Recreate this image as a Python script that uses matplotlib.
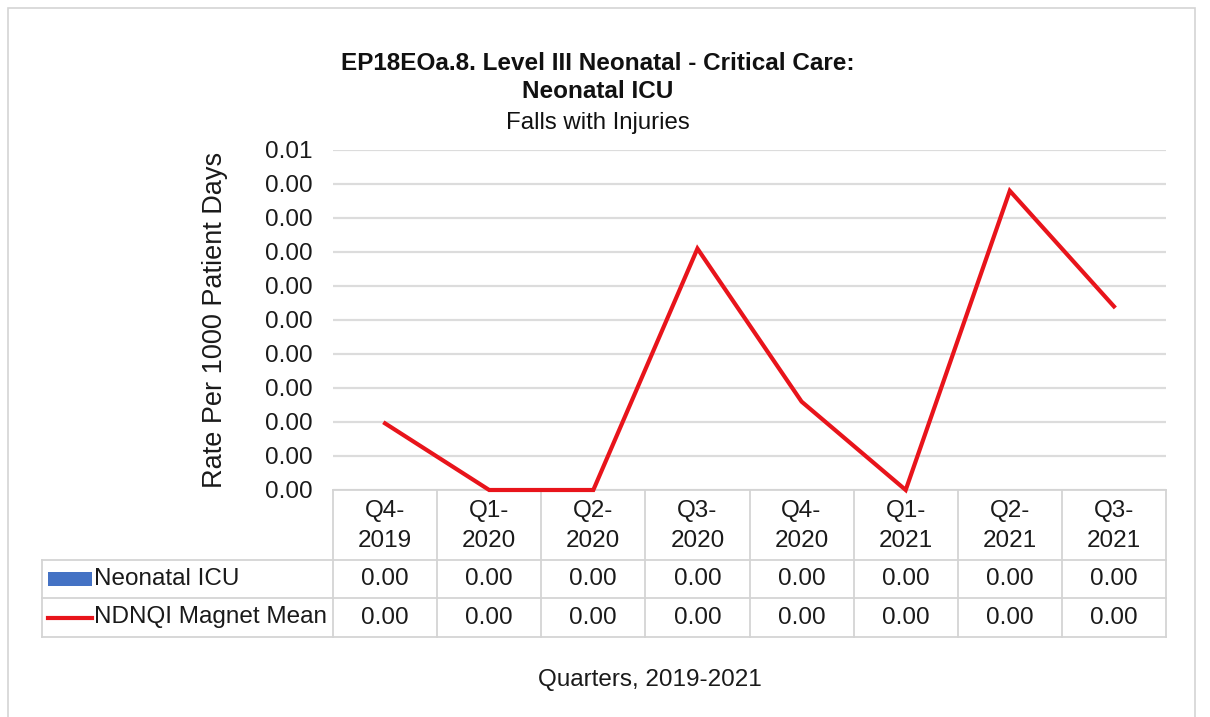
import matplotlib
matplotlib.use("Agg")
import matplotlib.pyplot as plt
from matplotlib.transforms import blended_transform_factory
from matplotlib.patches import Rectangle
from matplotlib.lines import Line2D

plt.rcParams['font.family'] = ['Liberation Sans', 'DejaVu Sans']

categories = ["Q4-\n2019", "Q1-\n2020", "Q2-\n2020", "Q3-\n2020", "Q4-\n2020", "Q1-\n2021", "Q2-\n2021", "Q3-\n2021"]
neonatal_icu = [0.0, 0.0, 0.0, 0.0, 0.0, 0.0, 0.0, 0.0]
magnet_mean = [0.00098, 0.0, 0.0, 0.00355, 0.0013, 0.0, 0.0044, 0.0027]
yticks = [0.0, 0.0005, 0.001, 0.0015, 0.002, 0.0025, 0.003, 0.0035, 0.004, 0.0045, 0.005]
series_names = ["Neonatal ICU", "NDNQI Magnet Mean"]

W, H = 1210, 717
fig = plt.figure(figsize=(W / 100, H / 100), dpi=100)
fig.patch.set_facecolor("white")

FS = 17.5
TXT = "#1a1a1a"

# outer frame
fig.patches.append(Rectangle((8 / W, -0.01), (1195 - 8) / W, (H - 8) / H + 0.01,
                             transform=fig.transFigure, facecolor="none",
                             edgecolor="#d4d4d4", lw=1.2))

ax_l, ax_r, ax_t, ax_b = 333, 1166, 150, 490
ax = fig.add_axes([ax_l / W, 1 - ax_b / H, (ax_r - ax_l) / W, (ax_b - ax_t) / H])
n = len(categories)
x = list(range(n))
ax.plot(x, magnet_mean, color="#e8141b", lw=3.0, solid_joinstyle="miter", clip_on=False, zorder=3)
ax.set_xlim(-0.5, n - 0.5)
ax.set_ylim(0, 0.005)
ax.set_yticks(yticks)
ax.set_yticklabels([f"{v:.2f}" for v in yticks])
ax.tick_params(axis="y", length=0, labelsize=FS, pad=15, colors=TXT)
ax.set_xticks([])
for s in ["top", "right", "left", "bottom"]:
    ax.spines[s].set_visible(False)
ax.yaxis.grid(True, color="#dcdcdc", lw=1.6)
ax.set_axisbelow(True)
ax.set_ylabel("Rate Per 1000 Patient Days", fontsize=19.5, color=TXT, labelpad=26)

# titles
fig.text(598 / W, 1 - 63 / H, "EP18EOa.8. Level III Neonatal - Critical Care:", ha="center", va="center",
         fontsize=17.5, fontweight="bold", color="#111111")
fig.text(598 / W, 1 - 91 / H, "Neonatal ICU", ha="center", va="center",
         fontsize=17.5, fontweight="bold", color="#111111")
fig.text(598 / W, 1 - 123 / H, "Falls with Injuries", ha="center", va="center",
         fontsize=17.3, color="#111111")

# data table
tr = blended_transform_factory(ax.transData, ax.transAxes)
ah = ax_b - ax_t
def ya(py):
    return (ax_b - py) / ah
grid_c = "#d4d4d4"
y_hdr_bot, y_r1_bot, y_r2_bot = ya(560), ya(598), ya(637)
x_left_data = -0.5 + (42 - ax_l) / ((ax_r - ax_l) / n)

for i in range(n + 1):
    xv = i - 0.5
    ax.add_line(Line2D([xv, xv], [0, y_r2_bot], transform=tr, color=grid_c, lw=1.3, clip_on=False))
ax.add_line(Line2D([x_left_data, x_left_data], [y_hdr_bot, y_r2_bot], transform=tr, color=grid_c, lw=1.3, clip_on=False))
ax.add_line(Line2D([-0.5, n - 0.5], [0, 0], transform=tr, color=grid_c, lw=1.3, clip_on=False))
for yy in [y_hdr_bot, y_r1_bot, y_r2_bot]:
    ax.add_line(Line2D([x_left_data, n - 0.5], [yy, yy], transform=tr, color=grid_c, lw=1.3, clip_on=False))

for i, c in enumerate(categories):
    ax.text(i, ya(526), c, transform=tr, ha="center", va="center",
            fontsize=FS, color=TXT, linespacing=1.45)
rows = [neonatal_icu, magnet_mean]
row_centers = [(y_hdr_bot + y_r1_bot) / 2, (y_r1_bot + y_r2_bot) / 2]
for r, vals in enumerate(rows):
    for i, v in enumerate(vals):
        ax.text(i, row_centers[r], f"{v:.2f}", transform=tr, ha="center", va="center",
                fontsize=FS, color=TXT)

key_x0 = x_left_data + 6 / ((ax_r - ax_l) / n)
key_x1 = x_left_data + 50 / ((ax_r - ax_l) / n)
ax.add_patch(Rectangle((key_x0, row_centers[0] - 7 / ah), key_x1 - key_x0, 14 / ah, transform=tr,
                       facecolor="#4472c4", edgecolor="none", clip_on=False))
ax.add_line(Line2D([key_x0, key_x1], [row_centers[1], row_centers[1]], transform=tr,
                   color="#e8141b", lw=3.0, clip_on=False))
for r, name in enumerate(series_names):
    ax.text(key_x1 + 0.02, row_centers[r], name, transform=tr, ha="left", va="center",
            fontsize=FS, color=TXT)

fig.text(650 / W, 1 - 680 / H, "Quarters, 2019-2021", ha="center", va="center",
         fontsize=FS, color=TXT)

fig.savefig("out.png", dpi=100, facecolor="white")
